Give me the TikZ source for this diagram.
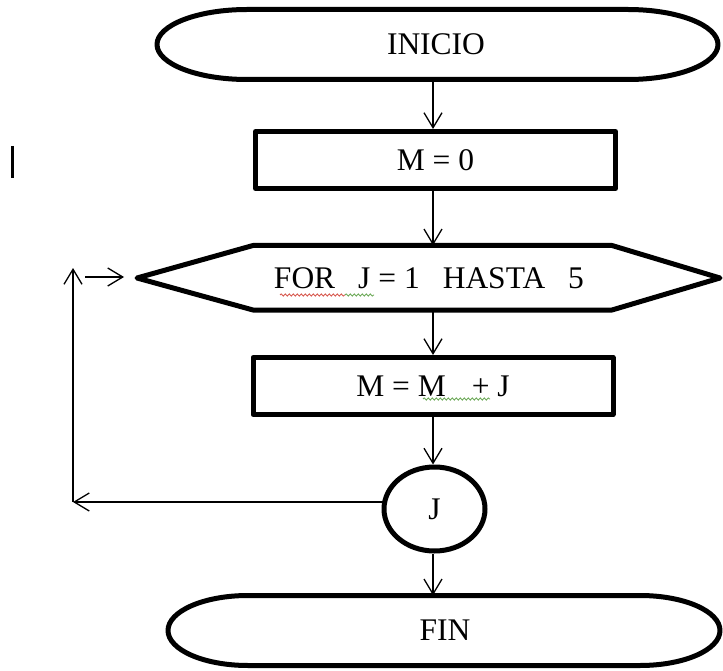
\documentclass[tikz,border=0pt]{standalone}
\usepackage{fontspec}
\setmainfont{Liberation Serif}
\usetikzlibrary{arrows.meta,shapes.geometric,decorations.pathmorphing}
\definecolor{spellred}{RGB}{215,90,80}
\definecolor{spellgreen}{RGB}{110,170,90}
\tikzset{
  thickline/.style={line width=5pt, line join=round},
  boxnode/.style={draw, thickline, rectangle, inner sep=0pt, minimum width=360pt, minimum height=57pt},
  plainnode/.style={inner sep=0pt},
  arr/.style={line width=1.3pt, -{Straight Barb[length=15pt,width=18pt,line width=1.3pt]}},
  txt/.style={font=\fontsize{31.5}{36}\selectfont},
  squig/.style={line width=0.9pt, decorate, decoration={snake, amplitude=1.1pt, segment length=4pt}}
}
\begin{document}
\begin{tikzpicture}[x=1pt,y=-1pt]
\useasboundingbox (0,0) rectangle (723,671);
% terminator INICIO
\draw[thickline] (247,9.5) -- (628,9.5) arc[start angle=-90,end angle=90,x radius=90,y radius=35] -- (247,79.5) arc[start angle=90,end angle=270,x radius=90,y radius=35] -- cycle;
\node[plainnode, minimum width=561pt, minimum height=70pt, txt] (inicio) at (436,44.5) {INICIO};
% M = 0
\node[boxnode, txt] (m0) at (435.5,160) {M = 0};
% FOR hexagon
\draw[thickline] (137,278) -- (253,245.5) -- (612,245.5) -- (720,278) -- (612,310) -- (253,310) -- cycle;
\node[plainnode, minimum width=470pt, minimum height=64.5pt] (for) at (432,277.75) {};
\node[txt, inner sep=0pt] (fortext) at (429,278) {FOR\hspace{23pt}J = 1\hspace{23pt}HASTA\hspace{23pt}5};
\draw[squig, spellred] (280,295) -- (345,295);
\draw[squig, spellgreen] (345,295) -- (374,295);
% M = M + J
\node[boxnode, txt] (mj) at (433,386) {M = M\hspace{26pt}+ J};
\draw[squig, spellgreen] (423,399) -- (490,399);
% J connector
\node[draw, thickline, ellipse, inner sep=0pt, minimum width=101pt, minimum height=84pt, txt] (j) at (434.5,509) {J};
% FIN terminator
\draw[thickline] (248,595.5) -- (640,595.5) arc[start angle=-90,end angle=90,x radius=80,y radius=35] -- (248,665.5) arc[start angle=90,end angle=270,x radius=80,y radius=35] -- cycle;
\node[plainnode, minimum width=552pt, minimum height=70pt, txt] (fin) at (445,630.5) {FIN};
% axis for vertical arrows
\coordinate (ax) at (433,0);
\draw[arr] (inicio.south -| ax) -- (m0.north -| ax);
\draw[arr] (m0.south -| ax) -- (for.north -| ax);
\draw[arr] (for.south -| ax) -- (mj.north -| ax);
\draw[arr] (mj.south -| ax) -- (j.north -| ax);
\draw[arr] (j.south -| ax) -- (fin.north -| ax);
% loop back
\coordinate (lc) at (73,502);
\coordinate (lt) at (73,268);
\coordinate (rs) at (85,277);
\coordinate (re) at (124,277);
\draw[arr] (j.170 |- lc) -- (lc);
\draw[arr] (lc) -- (lt);
\draw[arr] (rs) -- (re);
% stray mark
\coordinate (s1) at (12,146);
\coordinate (s2) at (12,178);
\draw[line width=3pt] (s1) -- (s2);
\end{tikzpicture}
\end{document}
